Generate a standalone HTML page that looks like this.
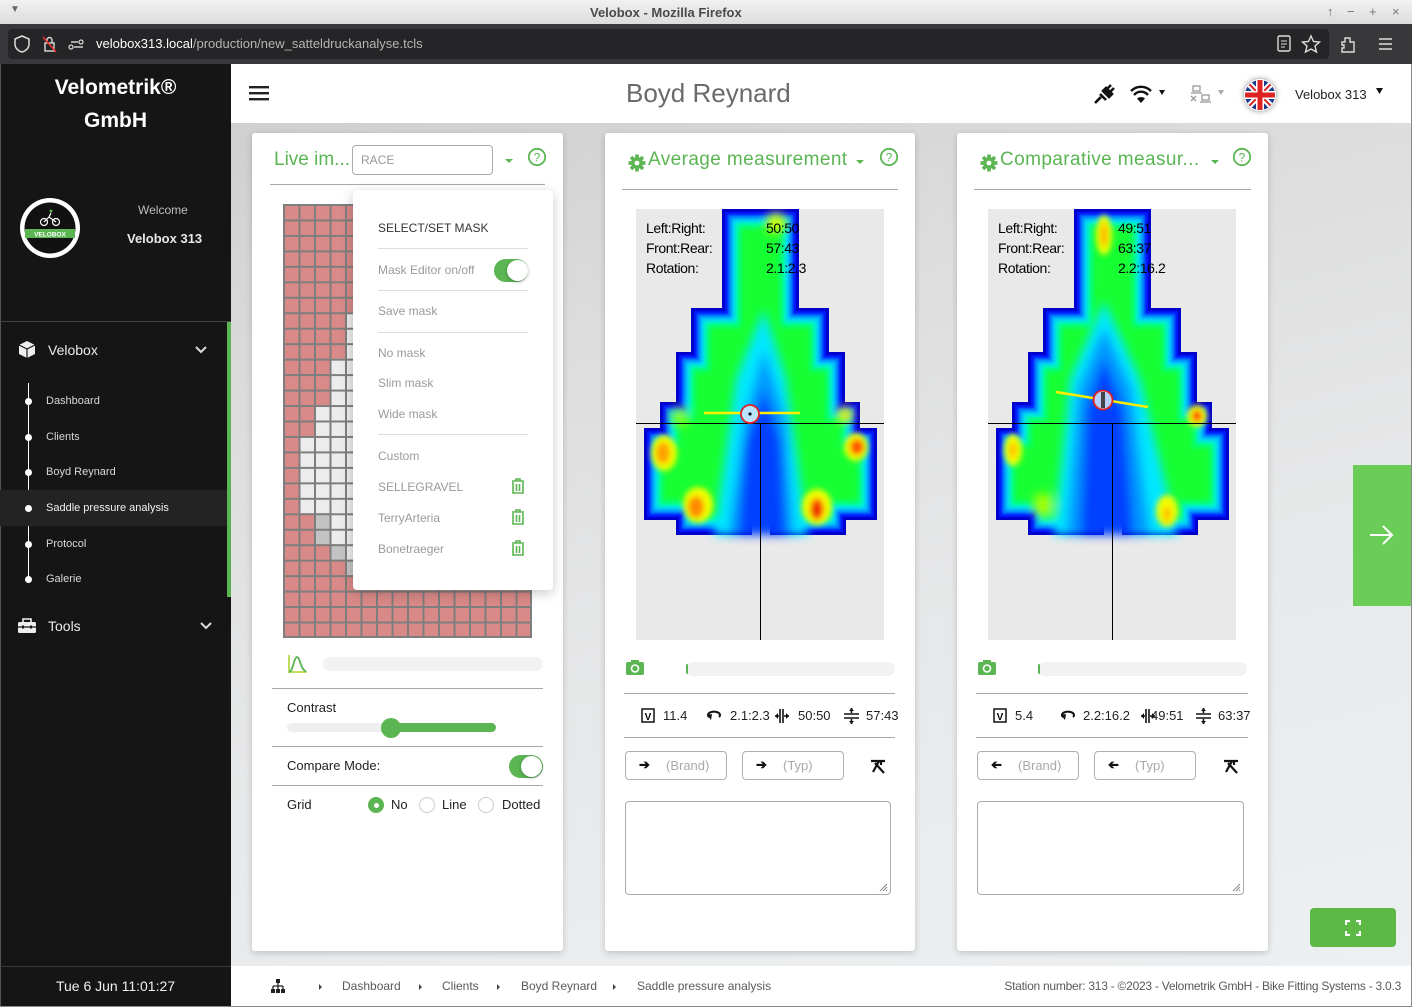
<!DOCTYPE html>
<html><head><meta charset="utf-8">
<style>
body{margin:0;width:1412px;height:1007px;position:relative;overflow:hidden;font-family:"Liberation Sans",sans-serif;background:#e6e7e8}
.a{position:absolute}
.t{position:absolute;white-space:nowrap}
.card{position:absolute;background:#fff;border-radius:3px;box-shadow:0 2px 7px rgba(0,0,0,.18)}
.ln{position:absolute;height:1px;background:#a8a8a8}
.g{color:#5ab552}
.mi{position:absolute;left:378px;font-size:12px;color:#9a9a9a;line-height:16px;white-space:nowrap}
.sb{position:absolute;left:46px;font-size:11px;color:#d8d8d8;line-height:14px;white-space:nowrap}
.dot{position:absolute;left:25px;width:7px;height:7px;border-radius:50%;background:#fff}
.btn{position:absolute;height:27px;border:1px solid #b0b0b0;border-radius:4px;background:#fff}
.ph{position:absolute;font-size:13px;color:#a9a9a9;line-height:16px;white-space:nowrap}
.st{position:absolute;font-size:13px;color:#222;line-height:16px;white-space:nowrap}
.bc{position:absolute;font-size:12px;color:#5a5a5a;line-height:16px;white-space:nowrap;top:978px}
.hm{position:absolute;font-size:14px;color:#000;line-height:16px;white-space:nowrap;letter-spacing:-0.4px}
.wc{position:absolute;top:4px;font-size:13px;color:#777;line-height:15px}
</style></head><body>

<svg class="a" width="0" height="0" style="left:0;top:0">
<defs>
<path id="sh" d="M86,0 H163 V99 H193 V143 H209 V193 H224 V219 H241 V311 H210 V326 H134 V266 H116 V326 H40 V311 H8 V219 H24 V193 H40 V143 H55 V99 H86 Z"/>
<filter id="e3"><feMorphology operator="erode" radius="3"/></filter>
<filter id="e6"><feMorphology operator="erode" radius="6"/><feGaussianBlur stdDeviation="1"/></filter>
<filter id="e9"><feMorphology operator="erode" radius="9"/><feGaussianBlur stdDeviation="1.5"/></filter>
<filter id="e12"><feMorphology operator="erode" radius="12"/><feGaussianBlur stdDeviation="2"/></filter>
<filter id="e15"><feMorphology operator="erode" radius="15"/><feGaussianBlur stdDeviation="2"/></filter>
<filter id="e19"><feMorphology operator="erode" radius="19"/><feGaussianBlur stdDeviation="3"/></filter>
<filter id="b5" x="-20%" y="-20%" width="140%" height="140%"><feGaussianBlur stdDeviation="5"/></filter>
<filter id="b3" x="-50%" y="-50%" width="200%" height="200%"><feGaussianBlur stdDeviation="3"/></filter>
<pattern id="gp" width="15.5" height="15.464" patternUnits="userSpaceOnUse"><path d="M0,0 H15.5 M0,0 V15.464" stroke="#7e7e7e" stroke-width="4" fill="none"/></pattern>
<clipPath id="fc"><circle cx="15" cy="15" r="15"/></clipPath>
</defs>
</svg>

<!-- Title bar -->
<div class="a" style="left:0;top:0;width:1412px;height:24px;background:linear-gradient(#f1f1f1,#dcdcdc)"></div>
<div class="t" style="left:590px;top:5px;font-weight:bold;font-size:13px;color:#4a4a4a;line-height:15px">Velobox - Mozilla Firefox</div>
<div class="t" style="left:10px;top:4px;font-size:10px;color:#666">▼</div>
<div class="wc" style="left:1327px">↑</div>
<div class="wc" style="left:1347px">−</div>
<div class="wc" style="left:1369px">+</div>
<div class="wc" style="left:1392px">×</div>

<!-- Toolbar -->
<div class="a" style="left:0;top:24px;width:1412px;height:40px;background:#38383b"></div>
<div class="a" style="left:8px;top:29px;width:1321px;height:30px;background:#252527;border-radius:4px"></div>
<svg class="a" style="left:12px;top:34px" width="80" height="20">
<path d="M10,2 L17,5 V10 C17,14 14,17 10,18 C6,17 3,14 3,10 V5 Z" fill="none" stroke="#ddd" stroke-width="1.5"/>
<rect x="33" y="9" width="9" height="8" fill="none" stroke="#ddd" stroke-width="1.4"/><path d="M35,9 V6 a2.5,2.5 0 0 1 5,0 V9" fill="none" stroke="#ddd" stroke-width="1.4"/><line x1="31" y1="3" x2="44" y2="18" stroke="#e33" stroke-width="1.6"/>
<line x1="59" y1="8" x2="66" y2="8" stroke="#ddd" stroke-width="1.4"/><circle cx="69" cy="8" r="2" fill="none" stroke="#ddd" stroke-width="1.2"/><line x1="62" y1="13" x2="71" y2="13" stroke="#ddd" stroke-width="1.4"/><circle cx="59" cy="13" r="2" fill="none" stroke="#ddd" stroke-width="1.2"/>
</svg>
<div class="t" style="left:96px;top:36px;font-size:13px;line-height:16px;color:#fff">velobox313.local<span style="color:#b5b5b5">/production/new_satteldruckanalyse.tcls</span></div>
<svg class="a" style="left:1274px;top:34px" width="130" height="20">
<rect x="4" y="2" width="12" height="15" rx="1.5" fill="none" stroke="#ddd" stroke-width="1.4"/><line x1="7" y1="7" x2="13" y2="7" stroke="#ddd"/><line x1="7" y1="10" x2="13" y2="10" stroke="#ddd"/><line x1="7" y1="13" x2="11" y2="13" stroke="#ddd"/>
<path d="M37,2 L39.5,7.5 L45.5,8 L41,12 L42.5,18 L37,15 L31.5,18 L33,12 L28.5,8 L34.5,7.5 Z" fill="none" stroke="#ddd" stroke-width="1.4"/>
<path d="M71,4 h5 v4 h4 v10 h-12 v-4 h2 v-3 h-2 v-3 h3 Z" fill="none" stroke="#ddd" stroke-width="1.4"/>
<line x1="105" y1="5" x2="118" y2="5" stroke="#ddd" stroke-width="1.5"/><line x1="105" y1="10" x2="118" y2="10" stroke="#ddd" stroke-width="1.5"/><line x1="105" y1="15" x2="118" y2="15" stroke="#ddd" stroke-width="1.5"/>
</svg>

<!-- Sidebar -->
<div class="a" style="left:0;top:64px;width:231px;height:943px;background:#151515"></div>
<div class="a" style="left:0;top:64px;width:1px;height:943px;background:#555"></div>
<div class="t" style="left:0;width:231px;text-align:center;top:75px;font-size:21px;font-weight:bold;color:#fff;line-height:26px">Velometrik®</div>
<div class="t" style="left:0;width:231px;text-align:center;top:108px;font-size:21px;font-weight:bold;color:#fff;line-height:26px">GmbH</div>
<svg class="a" style="left:19px;top:197px" width="62" height="62">
<circle cx="31" cy="31" r="30" fill="#fff"/><circle cx="31" cy="31" r="25.5" fill="#111"/>
<rect x="6" y="32" width="50" height="9" fill="#5ab552"/>
<text x="31" y="39.5" font-size="6.5" font-family="Liberation Sans" font-weight="bold" fill="#fff" text-anchor="middle">VELOBOX</text>
<circle cx="25" cy="25" r="3.5" fill="none" stroke="#fff" stroke-width="1.2"/><circle cx="37" cy="25" r="3.5" fill="none" stroke="#fff" stroke-width="1.2"/>
<path d="M25,25 L30,20 L37,25 M30,20 L32,16" stroke="#fff" stroke-width="1.2" fill="none"/><circle cx="32" cy="14" r="1.5" fill="#5ab552"/>
</svg>
<div class="t" style="left:138px;top:203px;font-size:12px;color:#bdbdbd;line-height:15px">Welcome</div>
<div class="t" style="left:127px;top:231px;font-size:13px;color:#e8e8e8;line-height:16px;font-weight:bold">Velobox 313</div>
<div class="a" style="left:0;top:321px;width:231px;height:1px;background:#444"></div>
<div class="a" style="left:227px;top:322px;width:4px;height:275px;background:#5ab552"></div>
<svg class="a" style="left:18px;top:340px" width="20" height="20">
<path d="M9,1 L17,5 V14 L9,18 L1,14 V5 Z" fill="#eee"/><path d="M1,5 L9,9 L17,5" fill="none" stroke="#151515" stroke-width="1.2"/><line x1="9" y1="9" x2="9" y2="18" stroke="#151515" stroke-width="1.2"/>
</svg>
<div class="t" style="left:48px;top:342px;font-size:14px;color:#eaeaea;line-height:17px">Velobox</div>
<svg class="a" style="left:194px;top:345px" width="14" height="10"><polyline points="2,2 7,7 12,2" fill="none" stroke="#ddd" stroke-width="2"/></svg>
<div class="a" style="left:28px;top:383px;width:1px;height:200px;background:#fff"></div>
<div class="a" style="left:0;top:490px;width:227px;height:36px;background:#232323"></div>
<div class="dot" style="top:398px"></div><div class="sb" style="top:394px">Dashboard</div>
<div class="dot" style="top:434px"></div><div class="sb" style="top:430px">Clients</div>
<div class="dot" style="top:469px"></div><div class="sb" style="top:465px">Boyd Reynard</div>
<div class="dot" style="top:505px"></div><div class="sb" style="top:501px;color:#f0f0f0">Saddle pressure analysis</div>
<div class="dot" style="top:541px"></div><div class="sb" style="top:537px">Protocol</div>
<div class="dot" style="top:576px"></div><div class="sb" style="top:572px">Galerie</div>
<svg class="a" style="left:17px;top:617px" width="20" height="18">
<rect x="1" y="5" width="18" height="11" rx="1.5" fill="#eee"/><path d="M6,5 V2 H14 V5" fill="none" stroke="#eee" stroke-width="1.6"/><line x1="1" y1="10" x2="19" y2="10" stroke="#151515" stroke-width="1.3"/><rect x="5" y="8.5" width="2" height="3" fill="#151515"/><rect x="13" y="8.5" width="2" height="3" fill="#151515"/>
</svg>
<div class="t" style="left:48px;top:618px;font-size:14px;color:#eaeaea;line-height:17px">Tools</div>
<svg class="a" style="left:199px;top:621px" width="14" height="10"><polyline points="2,2 7,7 12,2" fill="none" stroke="#ddd" stroke-width="2"/></svg>
<div class="a" style="left:0;top:966px;width:231px;height:1px;background:#3a3a3a"></div>
<div class="t" style="left:0;width:231px;text-align:center;top:977px;font-size:14px;color:#f0f0f0;line-height:18px">Tue 6 Jun 11:01:27</div>

<!-- Main background -->
<div class="a" style="left:231px;top:123px;width:1181px;height:843px;background:linear-gradient(165deg,#cfcfcf 0%,#dcdcdc 25%,#e6e7e8 55%,#edf0f2 100%)"></div>

<!-- Header -->
<div class="a" style="left:231px;top:64px;width:1181px;height:59px;background:#fff"></div>
<svg class="a" style="left:249px;top:86px" width="20" height="16"><rect x="0" y="0" width="20" height="2.4" fill="#222"/><rect x="0" y="6" width="20" height="2.4" fill="#222"/><rect x="0" y="12" width="20" height="2.4" fill="#222"/></svg>
<div class="t" style="left:626px;top:77px;font-size:26px;color:#6a6a6a;line-height:32px">Boyd Reynard</div>
<svg class="a" style="left:1092px;top:81px" width="300" height="30">
<path d="M5,20 L9,16 M8,13 L14,19 M11,10 L17,16 L20,13 L14,7 Z M15,8 L19,4 M18,11 L22,7" stroke="#111" stroke-width="2.6" fill="#111"/>
<line x1="3" y1="22" x2="8" y2="17" stroke="#111" stroke-width="2.6"/>
<path d="M39,10 a14,14 0 0 1 20,0" fill="none" stroke="#111" stroke-width="2.4"/>
<path d="M42,14 a9,9 0 0 1 14,0" fill="none" stroke="#111" stroke-width="2.4"/>
<path d="M49,22 L45,17.5 a6,6 0 0 1 8,0 Z" fill="#111"/>
<path d="M67,9 L73,9 L70,14 Z" fill="#111"/>
<rect x="101" y="5" width="7" height="5" fill="none" stroke="#999" stroke-width="1.3"/><line x1="99" y1="12" x2="110" y2="12" stroke="#999" stroke-width="1.3"/>
<rect x="110" y="14" width="7" height="5" fill="none" stroke="#999" stroke-width="1.3"/><line x1="108" y1="21" x2="119" y2="21" stroke="#999" stroke-width="1.3"/>
<path d="M99,15 L104,20 M104,15 L99,20" stroke="#999" stroke-width="1.3"/>
<path d="M126,9 L132,9 L129,14 Z" fill="#aaa"/>
<path d="M284,7 L291,7 L287.5,13 Z" fill="#111"/>
</svg>
<div class="a" style="left:1244px;top:79px;width:32px;height:32px;border-radius:50%;box-shadow:0 0 6px rgba(0,0,0,.45)"></div>
<svg class="a" style="left:1245px;top:80px" width="30" height="30">
<g clip-path="url(#fc)">
<rect width="30" height="30" fill="#1a3a8a"/>
<path d="M0,0 L30,30 M30,0 L0,30" stroke="#fff" stroke-width="6"/>
<path d="M0,0 L30,30 M30,0 L0,30" stroke="#d22" stroke-width="2"/>
<rect x="11" y="0" width="8" height="30" fill="#fff"/><rect x="0" y="11" width="30" height="8" fill="#fff"/>
<rect x="12.5" y="0" width="5" height="30" fill="#d22"/><rect x="0" y="12.5" width="30" height="5" fill="#d22"/>
</g></svg>
<div class="t" style="left:1295px;top:87px;font-size:13px;color:#222;line-height:16px">Velobox 313</div>

<!-- Card 1 -->
<div class="card" style="left:252px;top:133px;width:311px;height:818px"></div>
<div class="t g" style="left:274px;top:148px;font-size:19px;line-height:24px">Live im...</div>
<div class="a" style="left:352px;top:145px;width:139px;height:28px;border:1px solid #aaa;border-radius:4px;background:#fff"></div>
<div class="t" style="left:361px;top:153px;font-size:12px;color:#999;line-height:14px">RACE</div>
<svg class="a" style="left:504px;top:157px" width="10" height="8"><path d="M1,2 L9,2 L5,6 Z" fill="#5ab552"/></svg>
<svg class="a" style="left:527px;top:147px" width="20" height="20"><circle cx="10" cy="10" r="8.2" fill="none" stroke="#5ab552" stroke-width="1.8"/><text x="10" y="14.5" font-size="12" font-family="Liberation Sans" fill="#5ab552" text-anchor="middle">?</text></svg>
<div class="ln" style="left:270px;top:184px;width:275px"></div>

<svg class="a" style="left:283px;top:204px" width="250" height="435">
<rect x="0" y="0" width="248" height="433" fill="#d98987"/>
<g transform="scale(15.5,15.464)">
<rect x="4" y="7" width="1" height="16" fill="#ececec"/><rect x="4" y="23" width="1" height="1" fill="#c3c3c3"/>
<rect x="3" y="10" width="1" height="12" fill="#ececec"/><rect x="3" y="22" width="1" height="1" fill="#c3c3c3"/>
<rect x="2" y="13" width="1" height="7" fill="#ececec"/><rect x="2" y="20" width="1" height="2" fill="#c3c3c3"/>
<rect x="1" y="15" width="1" height="5" fill="#ececec"/>
</g>
<rect x="0" y="0" width="248" height="433" fill="url(#gp)"/>
<rect x="0" y="0" width="248" height="433" fill="none" stroke="#7e7e7e" stroke-width="2"/>
</svg>

<!-- dropdown -->
<div class="a" style="left:353px;top:190px;width:200px;height:400px;background:#fff;border-radius:4px;box-shadow:0 3px 12px rgba(0,0,0,.22)"></div>
<div class="mi" style="top:220px;color:#333">SELECT/SET MASK</div>
<div class="ln" style="left:378px;top:248px;width:150px;background:#ddd"></div>
<div class="mi" style="top:262px">Mask Editor on/off</div>
<div class="a" style="left:494px;top:259px;width:34px;height:23px;border-radius:12px;background:#5ab552"></div>
<div class="a" style="left:507px;top:260px;width:21px;height:21px;border-radius:50%;background:#fff;box-shadow:0 1px 3px rgba(0,0,0,.3)"></div>
<div class="ln" style="left:378px;top:290px;width:150px;background:#ddd"></div>
<div class="mi" style="top:303px">Save mask</div>
<div class="ln" style="left:378px;top:332px;width:150px;background:#ddd"></div>
<div class="mi" style="top:345px">No mask</div>
<div class="mi" style="top:375px">Slim mask</div>
<div class="mi" style="top:406px">Wide mask</div>
<div class="ln" style="left:378px;top:434px;width:150px;background:#ddd"></div>
<div class="mi" style="top:448px">Custom</div>
<div class="mi" style="top:479px">SELLEGRAVEL</div>
<div class="mi" style="top:510px">TerryArteria</div>
<div class="mi" style="top:541px">Bonetraeger</div>
<svg class="a" style="left:510px;top:478px" width="16" height="80">
<g fill="none" stroke="#5ab552" stroke-width="1.6">
<path d="M2,3 H14 M6,3 V1 H10 V3 M3,4 V15 H13 V4 M6.5,6 V13 M9.5,6 V13"/>
<path transform="translate(0,31)" d="M2,3 H14 M6,3 V1 H10 V3 M3,4 V15 H13 V4 M6.5,6 V13 M9.5,6 V13"/>
<path transform="translate(0,62)" d="M2,3 H14 M6,3 V1 H10 V3 M3,4 V15 H13 V4 M6.5,6 V13 M9.5,6 V13"/>
</g></svg>

<svg class="a" style="left:287px;top:654px" width="22" height="20"><path d="M2,1 V18 H20" fill="none" stroke="#b6d64a" stroke-width="1.8"/><path d="M2,18 C6,18 7,3 10,3 C13,3 14,17 19,17" fill="none" stroke="#5ab552" stroke-width="1.8"/></svg>
<div class="a" style="left:323px;top:657px;width:220px;height:14px;border-radius:7px;background:#f2f2f2"></div>
<div class="ln" style="left:272px;top:688px;width:271px"></div>
<div class="t" style="left:287px;top:700px;font-size:13px;color:#222;line-height:16px">Contrast</div>
<div class="a" style="left:287px;top:723px;width:105px;height:9px;border-radius:5px;background:#eeeeee"></div>
<div class="a" style="left:388px;top:723px;width:108px;height:9px;border-radius:5px;background:#5ab552"></div>
<div class="a" style="left:381px;top:718px;width:20px;height:20px;border-radius:50%;background:#5ab552"></div>
<div class="ln" style="left:272px;top:746px;width:271px"></div>
<div class="t" style="left:287px;top:758px;font-size:13px;color:#222;line-height:16px">Compare Mode:</div>
<div class="a" style="left:509px;top:755px;width:34px;height:23px;border-radius:12px;background:#5ab552"></div>
<div class="a" style="left:521px;top:756px;width:21px;height:21px;border-radius:50%;background:#fff;box-shadow:0 1px 3px rgba(0,0,0,.3)"></div>
<div class="ln" style="left:272px;top:785px;width:271px"></div>
<div class="t" style="left:287px;top:797px;font-size:13px;color:#222;line-height:16px">Grid</div>
<div class="a" style="left:368px;top:797px;width:16px;height:16px;border-radius:50%;background:#5ab552"></div>
<div class="a" style="left:373.5px;top:802.5px;width:5px;height:5px;border-radius:50%;background:#fff"></div>
<div class="t" style="left:391px;top:797px;font-size:13px;color:#222;line-height:16px">No</div>
<div class="a" style="left:419px;top:797px;width:14px;height:14px;border-radius:50%;border:1px solid #ccc;background:#fff"></div>
<div class="t" style="left:442px;top:797px;font-size:13px;color:#222;line-height:16px">Line</div>
<div class="a" style="left:478px;top:797px;width:14px;height:14px;border-radius:50%;border:1px solid #ccc;background:#fff"></div>
<div class="t" style="left:502px;top:797px;font-size:13px;color:#222;line-height:16px">Dotted</div>

<!-- Card 2 -->
<div class="card" style="left:605px;top:133px;width:310px;height:818px"></div>
<svg class="a" style="left:628px;top:154px" width="18" height="18"><g transform="translate(9,9)" fill="#5ab552"><circle r="6"/><rect x="-1.8" y="-8.5" width="3.6" height="17"/><rect x="-8.5" y="-1.8" width="17" height="3.6"/><rect x="-1.8" y="-8.5" width="3.6" height="17" transform="rotate(45)"/><rect x="-1.8" y="-8.5" width="3.6" height="17" transform="rotate(-45)"/><circle r="2.4" fill="#fff"/></g></svg>
<div class="t g" style="left:648px;top:148px;font-size:19px;line-height:24px;letter-spacing:0.4px">Average measurement</div>
<svg class="a" style="left:855px;top:158px" width="10" height="8"><path d="M1,2 L9,2 L5,6 Z" fill="#5ab552"/></svg>
<svg class="a" style="left:879px;top:147px" width="20" height="20"><circle cx="10" cy="10" r="8.2" fill="none" stroke="#5ab552" stroke-width="1.8"/><text x="10" y="14.5" font-size="12" font-family="Liberation Sans" fill="#5ab552" text-anchor="middle">?</text></svg>
<div class="ln" style="left:622px;top:189px;width:276px"></div>

<svg class="a" style="left:636px;top:209px;background:#e9e9e9" width="248" height="431">
<use href="#sh" fill="#0000cc"/>
<use href="#sh" fill="#0018ff" filter="url(#e3)"/>
<use href="#sh" fill="#0070ff" filter="url(#e6)"/>
<use href="#sh" fill="#00bcff" filter="url(#e9)"/>
<use href="#sh" fill="#00f0e8" filter="url(#e12)"/>
<use href="#sh" fill="#00ff88" filter="url(#e15)"/>
<use href="#sh" fill="#18ff30" filter="url(#e19)"/>
<g filter="url(#b5)">
<polygon points="128,100 150,170 172,326 78,326 100,170" fill="#00e8ff"/>
<polygon points="128,140 150,210 158,326 92,326 108,210" fill="#0098ff"/>
<polygon points="128,180 145,232 150,326 102,326 110,232" fill="#0040ff"/>
<circle cx="44" cy="208" r="10" fill="#b0ff00" opacity="0.7"/>
<circle cx="140" cy="14" r="10" fill="#d8ff00"/>
<circle cx="209" cy="206" r="8" fill="#ffee00"/>
</g>
<g filter="url(#b3)">
<ellipse cx="28" cy="244" rx="13" ry="18" fill="#f0ff00"/><ellipse cx="27" cy="244" rx="7" ry="11" fill="#ffa000"/>
<ellipse cx="62" cy="296" rx="15" ry="18" fill="#f0ff00"/><ellipse cx="60" cy="298" rx="8" ry="11" fill="#ff8800"/>
<ellipse cx="181" cy="298" rx="15" ry="18" fill="#f0ff00"/><ellipse cx="181" cy="300" rx="7" ry="11" fill="#ff5000"/><ellipse cx="180" cy="302" rx="3" ry="6" fill="#e00000"/>
<ellipse cx="220" cy="238" rx="12" ry="14" fill="#f0ff00"/><ellipse cx="221" cy="238" rx="7" ry="8" fill="#ff5000"/>
</g>
<line x1="0" y1="214.5" x2="248" y2="214.5" stroke="#000" stroke-width="1"/>
<line x1="124.5" y1="214" x2="124.5" y2="431" stroke="#000" stroke-width="1"/>
<line x1="68" y1="204" x2="164" y2="204" stroke="#ffee00" stroke-width="2.5"/>
<circle cx="114" cy="205" r="9" fill="#b8e4ff" stroke="#e02020" stroke-width="1.8"/>
<circle cx="114" cy="205" r="1.6" fill="#111"/>
</svg>
<div class="hm" style="left:646px;top:220px">Left:Right:</div>
<div class="hm" style="left:646px;top:240px">Front:Rear:</div>
<div class="hm" style="left:646px;top:260px">Rotation:</div>
<div class="hm" style="left:766px;top:220px">50:50</div>
<div class="hm" style="left:766px;top:240px">57:43</div>
<div class="hm" style="left:766px;top:260px">2.1:2.3</div>

<svg class="a" style="left:626px;top:660px" width="18" height="16"><rect x="0" y="2" width="18" height="13" rx="2" fill="#5ab552"/><rect x="5" y="0" width="8" height="4" fill="#5ab552"/><circle cx="9" cy="8.5" r="3.5" fill="none" stroke="#fff" stroke-width="1.6"/></svg>
<div class="a" style="left:686px;top:662px;width:209px;height:14px;border-radius:7px;background:#f2f2f2"></div>
<div class="a" style="left:686px;top:664px;width:2px;height:10px;border-radius:1px;background:#5ab552"></div>
<div class="ln" style="left:624px;top:693px;width:271px"></div>
<svg class="a" style="left:641px;top:708px" width="260" height="16">
<rect x="1" y="1" width="12" height="13" fill="none" stroke="#111" stroke-width="1.5"/><text x="7" y="12" font-size="10" font-weight="bold" font-family="Liberation Sans" text-anchor="middle">V</text>
<path d="M68,9 a6,3.5 0 1 1 10,0" fill="none" stroke="#111" stroke-width="2"/><path d="M66,7 L70,12 L71,6 Z" fill="#111"/>
<path d="M139,1 V15 M142,1 V15 M134,8 H138 M143,8 H148" stroke="#111" stroke-width="1.6"/><path d="M134,8 L137,5 V11 Z M148,8 L145,5 V11 Z" fill="#111"/>
<path d="M203,6 H218 M203,10 H218 M210.5,0 V5 M210.5,11 V16" stroke="#111" stroke-width="1.6"/><path d="M208,3 L210.5,0 L213,3 Z M208,13 L210.5,16 L213,13 Z" fill="#111"/>
</svg>
<div class="st" style="left:663px;top:708px">11.4</div>
<div class="st" style="left:730px;top:708px">2.1:2.3</div>
<div class="st" style="left:798px;top:708px">50:50</div>
<div class="st" style="left:866px;top:708px">57:43</div>
<div class="ln" style="left:624px;top:737px;width:271px"></div>
<div class="btn" style="left:625px;top:751px;width:100px"></div>
<div class="btn" style="left:742px;top:751px;width:100px"></div>
<div class="t" style="left:639px;top:757px;font-size:13px;font-weight:bold;color:#111;line-height:16px">➔</div>
<div class="ph" style="left:666px;top:758px">(Brand)</div>
<div class="t" style="left:756px;top:757px;font-size:13px;font-weight:bold;color:#111;line-height:16px">➔</div>
<div class="ph" style="left:783px;top:758px">(Typ)</div>
<svg class="a" style="left:869px;top:757px" width="18" height="18"><path d="M2,4 H16 M10,4 L4,15 M6,6 L15,16 M12,4 V8" stroke="#111" stroke-width="2.2" fill="none"/></svg>
<div class="a" style="left:625px;top:801px;width:264px;height:92px;border:1px solid #aaa;border-radius:4px;background:#fff"></div>
<svg class="a" style="left:879px;top:883px" width="9" height="9"><path d="M8,1 L1,8 M8,4 L4,8 M8,7 L7,8" stroke="#888" stroke-width="1"/></svg>

<!-- Card 3 -->
<div class="card" style="left:957px;top:133px;width:311px;height:818px"></div>
<svg class="a" style="left:980px;top:154px" width="18" height="18"><g transform="translate(9,9)" fill="#5ab552"><circle r="6"/><rect x="-1.8" y="-8.5" width="3.6" height="17"/><rect x="-8.5" y="-1.8" width="17" height="3.6"/><rect x="-1.8" y="-8.5" width="3.6" height="17" transform="rotate(45)"/><rect x="-1.8" y="-8.5" width="3.6" height="17" transform="rotate(-45)"/><circle r="2.4" fill="#fff"/></g></svg>
<div class="t g" style="left:1000px;top:148px;font-size:19px;line-height:24px;letter-spacing:0.4px">Comparative measur...</div>
<svg class="a" style="left:1210px;top:158px" width="10" height="8"><path d="M1,2 L9,2 L5,6 Z" fill="#5ab552"/></svg>
<svg class="a" style="left:1232px;top:147px" width="20" height="20"><circle cx="10" cy="10" r="8.2" fill="none" stroke="#5ab552" stroke-width="1.8"/><text x="10" y="14.5" font-size="12" font-family="Liberation Sans" fill="#5ab552" text-anchor="middle">?</text></svg>
<div class="ln" style="left:974px;top:189px;width:277px"></div>

<svg class="a" style="left:988px;top:209px;background:#e9e9e9" width="248" height="431">
<use href="#sh" fill="#0000cc"/>
<use href="#sh" fill="#0018ff" filter="url(#e3)"/>
<use href="#sh" fill="#0070ff" filter="url(#e6)"/>
<use href="#sh" fill="#00bcff" filter="url(#e9)"/>
<use href="#sh" fill="#00f0e8" filter="url(#e12)"/>
<use href="#sh" fill="#00ff88" filter="url(#e15)"/>
<use href="#sh" fill="#18ff30" filter="url(#e19)"/>
<g filter="url(#b5)">
<polygon points="116,92 152,170 190,326 66,326 82,170" fill="#00e8ff"/>
<polygon points="116,118 144,180 162,326 78,326 90,180" fill="#0098ff"/>
<polygon points="116,148 136,200 146,326 92,326 98,200" fill="#0040ff"/>
<ellipse cx="55" cy="296" rx="10" ry="12" fill="#a8ff00"/>
</g>
<g filter="url(#b3)">
<ellipse cx="116" cy="26" rx="8" ry="20" fill="#f0ff00"/><ellipse cx="116" cy="26" rx="3.5" ry="12" fill="#ffb000"/>
<ellipse cx="25" cy="241" rx="9" ry="16" fill="#f0ff00"/><ellipse cx="25" cy="241" rx="4" ry="8" fill="#ffc000"/>
<ellipse cx="209" cy="207" rx="10" ry="11" fill="#f0ff00"/><ellipse cx="209" cy="207" rx="5" ry="6" fill="#ff3000"/>
<ellipse cx="179" cy="302" rx="11" ry="16" fill="#f0ff00"/><ellipse cx="179" cy="305" rx="4" ry="8" fill="#ffc000"/>
</g>
<line x1="0" y1="214.5" x2="248" y2="214.5" stroke="#000" stroke-width="1"/>
<line x1="124.5" y1="214" x2="124.5" y2="431" stroke="#000" stroke-width="1"/>
<line x1="68" y1="183" x2="160" y2="198" stroke="#ffee00" stroke-width="2.5"/>
<circle cx="115" cy="191" r="9.5" fill="#b8d0ff" stroke="#e02020" stroke-width="1.8"/>
<rect x="113" y="183" width="4" height="16" fill="#444"/>
</svg>
<div class="hm" style="left:998px;top:220px">Left:Right:</div>
<div class="hm" style="left:998px;top:240px">Front:Rear:</div>
<div class="hm" style="left:998px;top:260px">Rotation:</div>
<div class="hm" style="left:1118px;top:220px">49:51</div>
<div class="hm" style="left:1118px;top:240px">63:37</div>
<div class="hm" style="left:1118px;top:260px">2.2:16.2</div>

<svg class="a" style="left:978px;top:660px" width="18" height="16"><rect x="0" y="2" width="18" height="13" rx="2" fill="#5ab552"/><rect x="5" y="0" width="8" height="4" fill="#5ab552"/><circle cx="9" cy="8.5" r="3.5" fill="none" stroke="#fff" stroke-width="1.6"/></svg>
<div class="a" style="left:1038px;top:662px;width:209px;height:14px;border-radius:7px;background:#f2f2f2"></div>
<div class="a" style="left:1038px;top:664px;width:2px;height:10px;border-radius:1px;background:#5ab552"></div>
<div class="ln" style="left:976px;top:693px;width:272px"></div>
<svg class="a" style="left:993px;top:708px" width="260" height="16">
<rect x="1" y="1" width="12" height="13" fill="none" stroke="#111" stroke-width="1.5"/><text x="7" y="12" font-size="10" font-weight="bold" font-family="Liberation Sans" text-anchor="middle">V</text>
<path d="M70,9 a6,3.5 0 1 1 10,0" fill="none" stroke="#111" stroke-width="2"/><path d="M68,7 L72,12 L73,6 Z" fill="#111"/>
<path d="M153,1 V15 M156,1 V15 M148,8 H152 M157,8 H162" stroke="#111" stroke-width="1.6"/><path d="M148,8 L151,5 V11 Z M162,8 L159,5 V11 Z" fill="#111"/>
<path d="M203,6 H218 M203,10 H218 M210.5,0 V5 M210.5,11 V16" stroke="#111" stroke-width="1.6"/><path d="M208,3 L210.5,0 L213,3 Z M208,13 L210.5,16 L213,13 Z" fill="#111"/>
</svg>
<div class="st" style="left:1015px;top:708px">5.4</div>
<div class="st" style="left:1083px;top:708px">2.2:16.2</div>
<div class="st" style="left:1151px;top:708px">49:51</div>
<div class="st" style="left:1218px;top:708px">63:37</div>
<div class="ln" style="left:976px;top:737px;width:272px"></div>
<div class="btn" style="left:977px;top:751px;width:100px"></div>
<div class="btn" style="left:1094px;top:751px;width:100px"></div>
<div class="t" style="left:991px;top:757px;font-size:13px;font-weight:bold;color:#111;line-height:16px;transform:scaleX(-1)">➔</div>
<div class="ph" style="left:1018px;top:758px">(Brand)</div>
<div class="t" style="left:1108px;top:757px;font-size:13px;font-weight:bold;color:#111;line-height:16px;transform:scaleX(-1)">➔</div>
<div class="ph" style="left:1135px;top:758px">(Typ)</div>
<svg class="a" style="left:1222px;top:757px" width="18" height="18"><path d="M2,4 H16 M10,4 L4,15 M6,6 L15,16 M12,4 V8" stroke="#111" stroke-width="2.2" fill="none"/></svg>
<div class="a" style="left:977px;top:801px;width:265px;height:92px;border:1px solid #aaa;border-radius:4px;background:#fff"></div>
<svg class="a" style="left:1232px;top:883px" width="9" height="9"><path d="M8,1 L1,8 M8,4 L4,8 M8,7 L7,8" stroke="#888" stroke-width="1"/></svg>

<!-- right green tab -->
<div class="a" style="left:1353px;top:465px;width:59px;height:141px;background:#6acd58"></div>
<svg class="a" style="left:1368px;top:524px" width="28" height="22"><path d="M2,11 H24 M15,2 L24,11 L15,20" fill="none" stroke="#fff" stroke-width="2"/></svg>
<!-- fullscreen button -->
<div class="a" style="left:1310px;top:908px;width:86px;height:39px;border-radius:4px;background:#5cb946"></div>
<svg class="a" style="left:1345px;top:920px" width="16" height="16"><path d="M1,5 V1 H5 M11,1 H15 V5 M15,11 V15 H11 M5,15 H1 V11" fill="none" stroke="#fff" stroke-width="2.2"/></svg>

<!-- footer -->
<div class="a" style="left:231px;top:966px;width:1181px;height:41px;background:#fff"></div>
<svg class="a" style="left:271px;top:979px" width="14" height="14"><rect x="5" y="0" width="4" height="4" fill="#222"/><path d="M7,4 V7 M2,7 H12 M2,7 V10 M7,7 V10 M12,7 V10" stroke="#222" stroke-width="1.3"/><rect x="0" y="10" width="4" height="4" fill="#222"/><rect x="5" y="10" width="4" height="4" fill="#222"/><rect x="10" y="10" width="4" height="4" fill="#222"/></svg>
<svg class="a" style="left:317px;top:982px" width="310" height="10"><path d="M2,2 L5,5 L2,8 Z M102,2 L105,5 L102,8 Z M180,2 L183,5 L180,8 Z M296,2 L299,5 L296,8 Z" fill="#444"/></svg>
<div class="bc" style="left:342px">Dashboard</div>
<div class="bc" style="left:442px">Clients</div>
<div class="bc" style="left:521px">Boyd Reynard</div>
<div class="bc" style="left:637px">Saddle pressure analysis</div>
<div class="bc" style="left:1003px;width:398px;text-align:right;letter-spacing:-0.25px">Station number: 313 - ©2023 - Velometrik GmbH - Bike Fitting Systems - 3.0.3</div>
<div class="a" style="left:0;top:1006px;width:1412px;height:1px;background:#888"></div>
<div class="a" style="left:1411px;top:64px;width:1px;height:943px;background:#888"></div>
</body></html>
